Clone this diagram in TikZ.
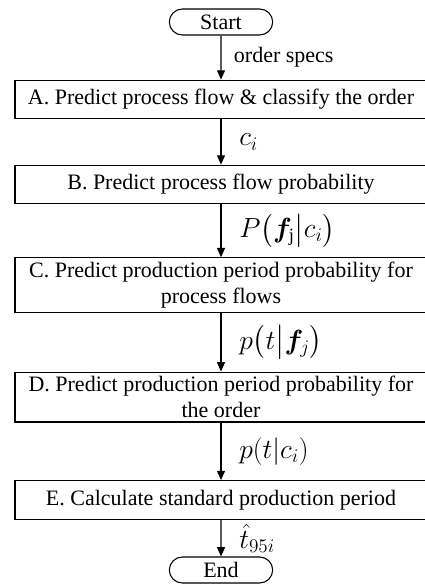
\documentclass[tikz,border=0pt]{standalone}
\usepackage{amsmath}
\usepackage{bm}
\usepackage{fontspec}
\setmainfont{Liberation Serif}
\usetikzlibrary{shapes.misc, arrows.meta, positioning}

\begin{document}
\begin{tikzpicture}[x=0.75pt, y=-0.75pt,
        procbox/.style={rectangle, draw=black, line width=0.8pt, minimum width=309pt, minimum height=29pt, align=center, font=\fontsize{16.5}{19}\selectfont},
        terminal/.style={rounded rectangle, draw=black, line width=0.8pt, minimum width=79.5pt, minimum height=19.5pt, inner sep=1pt, font=\fontsize{16.5}{19}\selectfont},
        flow/.style={-{Triangle[width=6pt, length=7pt]}, line width=0.8pt},
        lbl/.style={midway, anchor=west, xshift=6pt, font=\fontsize{16.5}{19}\selectfont},
        mathlbl/.style={lbl, xshift=4pt, font=\fontsize{20}{22}\selectfont}
    ]
        \useasboundingbox (0,0) rectangle (425,586);

        \node[terminal] (start) at (221,22) {Start};
        \node[procbox] (predA) at (221,99.5) {A. Predict process flow \& classify the order};
        \node[procbox] (predB) at (221,184.5) {B. Predict process flow probability};
        \node[procbox] (predC) at (221,285) {C. Predict production period probability for\\process flows};
        \node[procbox] (predD) at (221,397) {D. Predict production period probability for\\the order};
        \node[procbox] (calcE) at (221,500) {E. Calculate standard production period};
        \node[terminal] (stop) at (221,570) {End};

        \draw[flow] (start) -- node[lbl] {order specs} (predA);
        \draw[flow] (predA) -- node[mathlbl] {$c_i$} (predB);
        \draw[flow] (predB) -- node[mathlbl] {$P\bigl(\bm{f}_{\mathrm{j}}{\big|}c_i\bigr)$} (predC);
        \draw[flow] (predC) -- node[mathlbl] {$p\bigl(t{\big|}\bm{f}_j\bigr)$} (predD);
        \draw[flow] (predD) -- node[mathlbl] {$p(t|c_i)$} (calcE);
        \draw[flow] (calcE) -- node[mathlbl] {$\hat{t}_{95i}$} (stop);
    \end{tikzpicture}
\end{document}
